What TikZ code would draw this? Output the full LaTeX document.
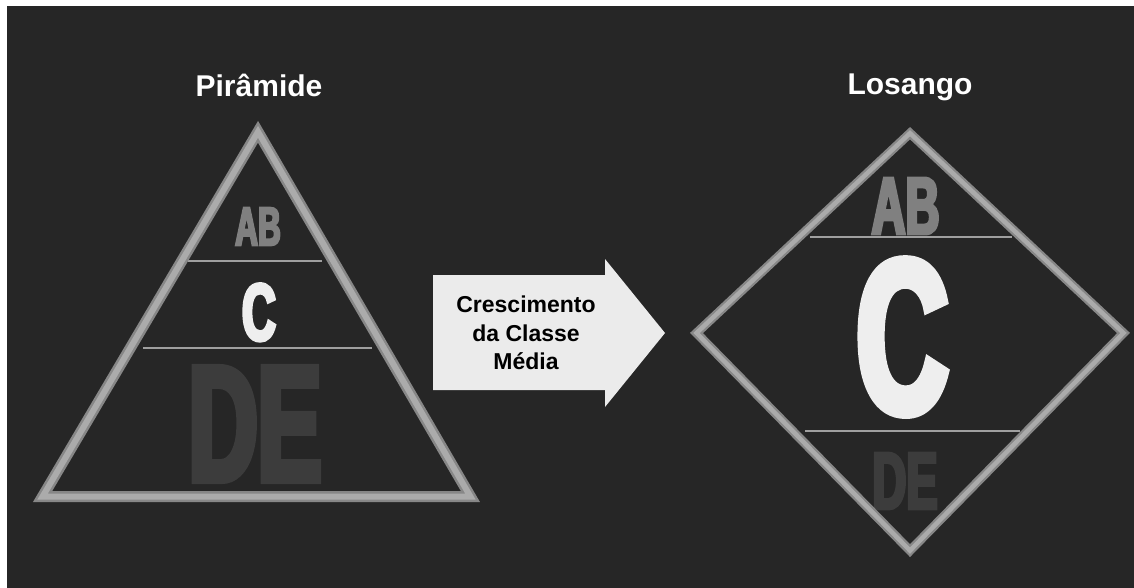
\documentclass[tikz,border=0pt]{standalone}
\usepackage{fontspec}
\setmainfont{Liberation Sans}
\newfontfamily\blockfont{Liberation Sans}[FakeStretch=0.58,BoldFeatures={FakeBold=4}]
\newcommand\blk[1]{\blockfont\bfseries\fontsize{#1}{#1}\selectfont}
\definecolor{backdrop}{HTML}{262626}
\definecolor{abgray}{HTML}{808080}
\definecolor{cwhite}{HTML}{EEEEEE}
\definecolor{degray}{HTML}{3C3C3C}
\definecolor{framedark}{HTML}{878787}
\definecolor{framelight}{HTML}{ABABAB}
\definecolor{arrowfill}{HTML}{EBEBEB}
\tikzset{
  frame/.style={line width=#1, color=framedark, line join=miter},
  ridge/.style={line width=#1, color=framelight, line join=miter},
  divider/.style={line width=1.6pt, color=gray!75},
  letters/.style={inner sep=0pt, text depth=0pt},
  title/.style={text=white, font=\bfseries\fontsize{30}{30}\selectfont, anchor=base}
}

\begin{document}
\begin{tikzpicture}[x=1pt,y=-1pt]
			%%%%% START %%%%%
			
			\fill[white] (0,0) rectangle (1134,588);
			\fill[backdrop] (7,6) rectangle (1134,588);
			
			% piramide
			\coordinate (pl) at (42.6,496.5);
			\coordinate (pt) at (258,131.8);
			\coordinate (pr) at (470.4,496.5);
			
			\draw[divider] (188,261) -- (322,261);
			\draw[divider] (143,348) -- (372,348);
			
			\node[letters, text=degray, font=\blk{165}] (triDE) at (255,424) {DE};
			\node[letters, text=abgray, font=\blk{54.5}] (triAB) at (258,226.5) {AB};
			\node[letters, text=cwhite, font=\blk{81}] (triC) at (259,312) {C};
			
			\draw[frame=11pt] (pl) -- (pt) -- (pr) -- cycle;
			\draw[ridge=6pt] (pl) -- (pt) -- (pr) -- cycle;
			
			\node[title] (piramide) at (259,97) {Pirâmide};
			
			% seta
			\fill[arrowfill] (433,275) -- (605,275) -- (605,259) -- (665,333)
				-- (605,407) -- (605,390) -- (433,390) -- cycle;
			\node[align=center, font=\bfseries\fontsize{23}{28.5}\selectfont] (growth) at (526,333)
				{Crescimento\\da Classe\\Média};
			
			% losango
			\coordinate (ll) at (696.5,333);
			\coordinate (lt) at (910,133.2);
			\coordinate (lr) at (1123.5,333);
			\coordinate (lb) at (910,550.6);
			
			\draw[divider] (810,237) -- (1012,237);
			\draw[divider] (805,431) -- (1020,431);
			
			\node[letters, text=abgray, font=\blk{81}] (diaAB) at (905.5,206) {AB};
			\node[letters, text=cwhite, font=\blk{219}] (diaC) at (902.5,336) {C};
			\node[letters, text=degray, font=\blk{81}] (diaDE) at (905,481) {DE};
			
			\draw[frame=9pt] (ll) -- (lt) -- (lr) -- (lb) -- cycle;
			\draw[ridge=4.5pt] (ll) -- (lt) -- (lr) -- (lb) -- cycle;
			
			\node[title] (losango) at (910,95) {Losango};
			
			%%%%% END %%%%%
\end{tikzpicture}
\end{document}
